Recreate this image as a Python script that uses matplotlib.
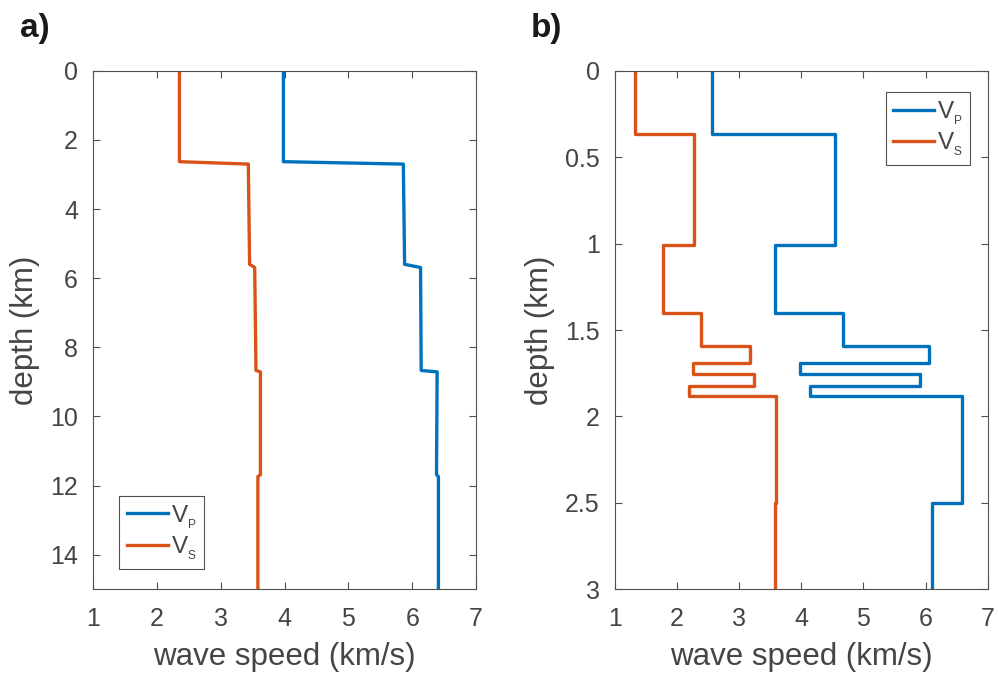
import numpy as np
import matplotlib
matplotlib.use("Agg")
import matplotlib.pyplot as plt

# (a) smooth crustal model, sampled nodes: depth (km), Vp, Vs (km/s)
depth_a = [0.0, 2.63, 2.70, 5.60, 5.69, 8.67, 8.71, 11.68, 11.74, 15.0]
vp_a = [3.98, 3.98, 5.86, 5.88, 6.13, 6.14, 6.39, 6.38, 6.41, 6.41]
vs_a = [2.35, 2.35, 3.43, 3.45, 3.53, 3.55, 3.62, 3.62, 3.58, 3.58]

# (b) layered shallow model: layer tops (km) and layer velocities
tops_b = [0.0, 0.366, 1.01, 1.40, 1.59, 1.69, 1.756, 1.824, 1.88, 2.50]
base_b = 3.0
vp_b = [2.57, 4.54, 3.58, 4.67, 6.05, 3.98, 5.91, 4.14, 6.59, 6.10]
vs_b = [1.32, 2.28, 1.78, 2.38, 3.17, 2.25, 3.24, 2.19, 3.59, 3.57]

BLUE, RED = "#0072BD", "#D95319"
TXT = "#454545"
FONT = "Liberation Sans"

plt.rcParams["font.family"] = [FONT, "DejaVu Sans"]
plt.rcParams["mathtext.fontset"] = "custom"
plt.rcParams["mathtext.rm"] = FONT


def layers(tops, base, v):
    z = np.repeat(np.r_[tops, base], 2)[1:-1]
    return np.repeat(v, 2), z


def style(ax, ymax, yticks, yticklabels):
    ax.set_xlim(1, 7)
    ax.set_ylim(ymax, 0)
    ax.set_xticks(range(1, 8))
    ax.set_yticks(yticks)
    ax.set_yticklabels(yticklabels)
    ax.tick_params(direction="in", length=5, width=0.8, colors="#505050",
                   labelcolor=TXT, labelsize=18, top=True, right=True)
    ax.tick_params(axis="x", pad=13)
    ax.tick_params(axis="y", pad=11)
    for s in ax.spines.values():
        s.set_color("#505050"); s.set_linewidth(0.8)
    ax.set_xlabel("wave speed (km/s)", fontsize=22.5, color=TXT, labelpad=8)
    ax.set_ylabel("depth (km)", fontsize=22.5, color=TXT, labelpad=7)


fig = plt.figure(figsize=(9.98, 6.77), dpi=100)
ax1 = fig.add_axes([0.0935, 0.1295, 0.3835, 0.766])
ax2 = fig.add_axes([0.6162, 0.1295, 0.3734, 0.766])

lab_p = r"$\mathregular{V_{_P}}$"
lab_s = r"$\mathregular{V_{_S}}$"
lw = 2.4
ax1.plot(vp_a, depth_a, color=BLUE, lw=lw, label=lab_p)
ax1.plot(vs_a, depth_a, color=RED, lw=lw, label=lab_s)
style(ax1, 15, range(0, 16, 2), [str(t) for t in range(0, 16, 2)])

x, z = layers(tops_b, base_b, vp_b)
ax2.plot(x, z, color=BLUE, lw=lw, label=lab_p)
x, z = layers(tops_b, base_b, vs_b)
ax2.plot(x, z, color=RED, lw=lw, label=lab_s)
yt = [0, 0.5, 1, 1.5, 2, 2.5, 3]
style(ax2, 3, yt, ["0", "0.5", "1", "1.5", "2", "2.5", "3"])

leg_kw = dict(fontsize=17.5, fancybox=False, borderaxespad=0, handlelength=1.7,
              handletextpad=0.12, labelspacing=0.15, borderpad=0.3, framealpha=1)
lg1 = ax1.legend(loc="lower left", bbox_to_anchor=(0.068, 0.039), **leg_kw)
lg2 = ax2.legend(loc="upper right", bbox_to_anchor=(0.954, 0.959), **leg_kw)
for lg in (lg1, lg2):
    lg.get_frame().set_edgecolor("#505050")
    lg.get_frame().set_linewidth(0.8)
    for t in lg.get_texts():
        t.set_color(TXT)

fig.text(0.020, 0.9458, "a)", fontsize=24, fontweight="bold", color="#1a1a1a", va="baseline")
fig.text(0.532, 0.9458, "b)", fontsize=24, fontweight="bold", color="#1a1a1a", va="baseline")

fig.savefig("out.png", dpi=100)
